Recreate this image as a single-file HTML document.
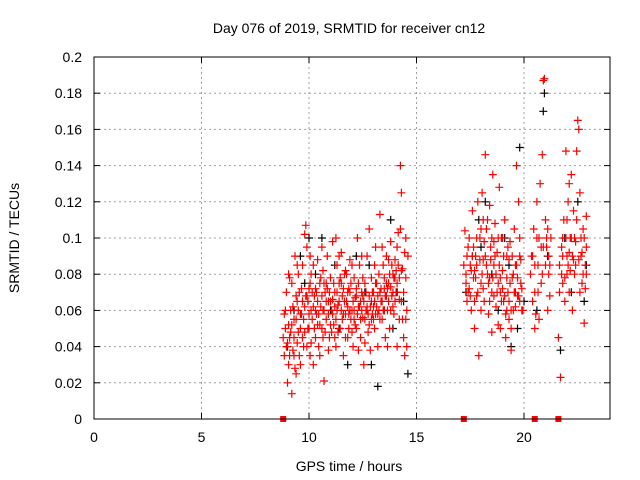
<!DOCTYPE html>
<html><head><meta charset="utf-8"><style>
body{margin:0;background:#fff;}
svg{display:block;font-family:"Liberation Sans",sans-serif;}
</style></head><body>
<svg id="chart" width="640" height="480" viewBox="0 0 640 480">
<text x="349" y="33" font-size="14" text-anchor="middle" fill="#000">Day 076 of 2019, SRMTID for receiver cn12</text>
<text x="349" y="471" font-size="14" text-anchor="middle">GPS time / hours</text>
<text transform="translate(19,238) rotate(-90)" font-size="14" text-anchor="middle">SRMTID / TECUs</text>
<g id="grid"></g><g id="ticks"></g><g id="marks"></g>
<rect x="94" y="57" width="516" height="362" fill="none" stroke="#000" stroke-width="1"/>
</svg>
<script>
const xTicks=[0,5,10,15,20];
const yTicks=[0,0.02,0.04,0.06,0.08,0.1,0.12,0.14,0.16,0.18,0.2];
const gapMarkers=[8.8,17.2,20.5,21.6];
const blackPoints=[[9.0,0.04],[9.3,0.06],[9.6,0.09],[10.0,0.1],[10.3,0.08],[10.6,0.1],[11.0,0.06],[11.4,0.05],[11.8,0.03],[12.2,0.09],[12.6,0.07],[12.9,0.03],[13.2,0.018],[13.5,0.06],[13.8,0.11],[14.1,0.07],[14.4,0.065],[14.6,0.025],[9.8,0.075],[11.2,0.085],[12.8,0.085],[13.9,0.05],
[17.3,0.07],[17.6,0.09],[17.9,0.11],[18.2,0.12],[18.5,0.08],[18.8,0.06],[19.1,0.1],[19.4,0.04],[19.7,0.05],[19.8,0.15],[20.0,0.065],[20.6,0.06],[20.9,0.17],[20.95,0.18],[21.1,0.09],[21.7,0.038],[21.9,0.1],[22.2,0.07],[22.5,0.12],[22.8,0.065],[22.9,0.085],[18.0,0.095],[19.3,0.085]];
const redPoints=[
[8.85,0.035],[8.9,0.05],[8.95,0.07],[9.0,0.02],[9.05,0.08],[9.1,0.045],[9.15,0.06],[9.2,0.014],[9.2,0.075],[9.25,0.038],[9.3,0.055],[9.35,0.09],[9.4,0.025],[9.45,0.065],[9.5,0.048],[9.55,0.07],[9.6,0.03],[9.65,0.058],[9.7,0.085],[9.75,0.04],[9.8,0.062],[9.85,0.107],[9.9,0.095],[9.95,0.05],[10.0,0.072],[10.05,0.035],[10.1,0.08],[10.15,0.055],[10.2,0.03],[10.25,0.068],[10.3,0.045],[10.35,0.058],[10.4,0.088],[10.45,0.04],[10.5,0.075],[10.55,0.062],[10.6,0.05],[10.65,0.082],[10.7,0.021],[10.75,0.07],[10.8,0.055],[10.85,0.09],[10.9,0.065],[10.95,0.045],[11.0,0.078],[11.05,0.06],[11.1,0.098],[11.15,0.052],[11.2,0.07],[11.25,0.04],[11.3,0.085],[11.35,0.063],[11.4,0.075],[11.45,0.05],[11.5,0.092],[11.55,0.068],[11.6,0.035],[11.65,0.08],[11.7,0.058],[11.75,0.065],[11.8,0.045],[11.85,0.072],[11.9,0.088],[11.95,0.055],[12.0,0.06],[12.05,0.04],[12.1,0.078],[12.15,0.067],[12.2,0.05],[12.25,0.1],[12.3,0.062],[12.35,0.085],[12.4,0.045],[12.45,0.07],[12.5,0.056],[12.55,0.03],[12.6,0.075],[12.65,0.06],[12.7,0.09],[12.75,0.048],[12.8,0.068],[12.85,0.038],[12.9,0.078],[12.95,0.058],[13.0,0.07],[13.05,0.05],[13.1,0.095],[13.15,0.062],[13.2,0.04],[13.25,0.08],[13.3,0.113],[13.35,0.065],[13.4,0.055],[13.45,0.085],[13.5,0.072],[13.55,0.045],[13.6,0.09],[13.65,0.06],[13.7,0.075],[13.75,0.05],[13.8,0.098],[13.85,0.068],[13.9,0.08],[13.95,0.058],[14.0,0.088],[14.05,0.07],[14.1,0.04],[14.15,0.103],[14.2,0.066],[14.25,0.14],[14.3,0.125],[14.35,0.083],[14.4,0.045],[14.45,0.035],[14.5,0.1],[14.55,0.06],[14.6,0.09],
[8.9,0.06],[9.0,0.042],[9.1,0.078],[9.2,0.052],[9.3,0.035],[9.4,0.068],[9.5,0.08],[9.6,0.058],[9.7,0.045],[9.8,0.102],[9.9,0.068],[10.0,0.05],[10.1,0.06],[10.2,0.085],[10.3,0.072],[10.4,0.052],[10.5,0.035],[10.6,0.095],[10.7,0.06],[10.8,0.075],[10.9,0.038],[11.0,0.052],[11.1,0.066],[11.2,0.045],[11.3,0.06],[11.4,0.09],[11.5,0.075],[11.6,0.058],[11.7,0.082],[11.8,0.07],[11.9,0.06],[12.0,0.085],[12.1,0.055],[12.2,0.072],[12.3,0.038],[12.4,0.065],[12.5,0.078],[12.6,0.042],[12.7,0.06],[12.8,0.105],[12.9,0.065],[13.0,0.055],[13.1,0.075],[13.2,0.058],[13.3,0.07],[13.4,0.095],[13.5,0.06],[13.6,0.068],[13.7,0.088],[13.8,0.073],[13.9,0.062],[14.0,0.078],[14.1,0.095],[14.2,0.055],[14.3,0.082],[14.4,0.07],[14.5,0.078],[9.05,0.03],[9.45,0.085],[10.05,0.09],[10.65,0.045],[11.25,0.1],[11.85,0.05],[12.45,0.09],[13.05,0.085],[13.65,0.04],[14.25,0.105],
[8.8,0.045],[8.85,0.058],[8.95,0.04],[9.05,0.052],[9.1,0.035],[9.15,0.048],[9.25,0.062],[9.3,0.045],[9.35,0.028],[9.4,0.055],[9.45,0.042],[9.5,0.06],[9.55,0.035],[9.6,0.05],[9.65,0.072],[9.7,0.065],[9.75,0.055],[9.8,0.048],[9.85,0.068],[9.9,0.04],[9.95,0.065],[10.0,0.058],[10.05,0.075],[10.1,0.042],[10.15,0.07],[10.2,0.062],[10.25,0.05],[10.3,0.06],[10.35,0.07],[10.4,0.065],[10.45,0.058],[10.5,0.052],[10.55,0.078],[10.6,0.068],[10.65,0.06],[10.7,0.075],[10.75,0.048],[10.8,0.065],[10.85,0.072],[10.9,0.058],[10.95,0.07],[11.0,0.065],[11.05,0.048],[11.1,0.058],[11.15,0.075],[11.2,0.062],[11.25,0.055],[11.3,0.07],[11.35,0.048],[11.4,0.065],[11.45,0.078],[11.5,0.06],[11.55,0.055],[11.6,0.072],[11.65,0.065],[11.7,0.045],[11.75,0.08],[11.8,0.062],[11.85,0.058],[11.9,0.07],[11.95,0.075],[12.0,0.048],[12.05,0.065],[12.1,0.06],[12.15,0.052],[12.2,0.068],[12.25,0.058],[12.3,0.075],[12.35,0.062],[12.4,0.055],[12.45,0.06],[12.5,0.068],[12.55,0.065],[12.6,0.055],[12.65,0.07],[12.7,0.062],[12.75,0.058],[12.8,0.052],[12.85,0.062],[12.9,0.055],[12.95,0.07],[13.0,0.062],[13.05,0.065],[13.1,0.058],[13.15,0.075],[13.2,0.068],[13.25,0.06],[13.3,0.055],[13.35,0.072],[13.4,0.065],[13.45,0.06],[13.5,0.078],[13.55,0.068],[13.6,0.075],[13.65,0.072],[13.7,0.065],[13.75,0.08],[13.8,0.06],[13.85,0.085],[13.9,0.07],[13.95,0.078],[14.0,0.065],[14.05,0.082],[14.1,0.075],[14.15,0.085],[14.2,0.078],[14.3,0.065],[14.35,0.055],[14.45,0.092],[14.5,0.055],[14.55,0.04],
[17.25,0.104],[17.3,0.08],[17.35,0.065],[17.4,0.095],[17.45,0.072],[17.5,0.085],[17.55,0.06],[17.6,0.115],[17.65,0.078],[17.7,0.05],[17.75,0.09],[17.8,0.068],[17.85,0.12],[17.9,0.035],[17.95,0.1],[18.0,0.075],[18.05,0.125],[18.1,0.088],[18.15,0.065],[18.2,0.146],[18.25,0.105],[18.3,0.08],[18.35,0.058],[18.4,0.118],[18.45,0.095],[18.5,0.07],[18.55,0.135],[18.6,0.085],[18.65,0.108],[18.7,0.062],[18.75,0.092],[18.8,0.075],[18.85,0.128],[18.9,0.05],[18.95,0.1],[19.0,0.082],[19.05,0.065],[19.1,0.11],[19.15,0.045],[19.2,0.09],[19.25,0.07],[19.3,0.055],[19.35,0.098],[19.4,0.038],[19.45,0.078],[19.5,0.06],[19.55,0.105],[19.6,0.085],[19.65,0.14],[19.7,0.068],[19.75,0.12],[19.8,0.09],[19.85,0.075],[19.9,0.06],
[17.4,0.07],[17.6,0.09],[17.8,0.1],[18.0,0.06],[18.2,0.09],[18.4,0.078],[18.6,0.098],[18.8,0.052],[19.0,0.1],[19.2,0.06],[19.4,0.05],[19.6,0.07],[19.8,0.1],[17.7,0.082],[18.1,0.11],[18.5,0.048],[18.9,0.07],[19.3,0.088],
[17.2,0.085],[17.3,0.075],[17.35,0.09],[17.45,0.1],[17.5,0.068],[17.55,0.082],[17.65,0.095],[17.7,0.065],[17.75,0.078],[17.8,0.085],[17.85,0.07],[17.95,0.088],[18.0,0.105],[18.05,0.08],[18.1,0.072],[18.15,0.098],[18.25,0.085],[18.3,0.11],[18.35,0.075],[18.4,0.065],[18.45,0.088],[18.5,0.1],[18.55,0.078],[18.6,0.068],[18.65,0.09],[18.7,0.08],[18.75,0.07],[18.8,0.1],[18.85,0.085],[18.9,0.078],[18.95,0.065],[19.0,0.072],[19.05,0.09],[19.1,0.068],[19.15,0.058],[19.2,0.078],[19.25,0.095],[19.3,0.065],[19.35,0.075],[19.4,0.06],[19.45,0.09],[19.5,0.08],[19.55,0.07],[19.6,0.062],[19.65,0.085],[19.7,0.078],[19.75,0.068],[19.8,0.065],[19.85,0.088],[19.9,0.072],[19.95,0.06],
[20.3,0.08],[20.35,0.09],[20.4,0.065],[20.45,0.105],[20.5,0.07],[20.55,0.058],[20.6,0.12],[20.65,0.085],[20.7,0.1],[20.75,0.13],[20.8,0.075],[20.85,0.146],[20.9,0.187],[20.95,0.188],[21.0,0.11],[21.05,0.095],[21.1,0.06],[21.15,0.08],[21.2,0.068],[20.5,0.05],[20.7,0.055],[20.9,0.095],[21.1,0.105],
[20.4,0.09],[20.5,0.085],[20.6,0.1],[20.65,0.07],[20.8,0.095],[20.85,0.08],[21.0,0.085],[21.05,0.1],[21.15,0.09],[21.2,0.085],[21.25,0.1],
[21.6,0.045],[21.65,0.085],[21.7,0.023],[21.75,0.095],[21.8,0.075],[21.85,0.11],[21.9,0.065],[21.95,0.148],[22.0,0.09],[22.05,0.12],[22.1,0.07],[22.15,0.1],[22.2,0.135],[22.25,0.06],[22.3,0.115],[22.35,0.08],[22.4,0.098],[22.45,0.148],[22.5,0.165],[22.55,0.16],[22.6,0.125],[22.65,0.09],[22.7,0.075],[22.75,0.105],[22.8,0.053],[22.85,0.085],[22.9,0.112],[22.0,0.08],[22.3,0.088],[22.6,0.07],[22.9,0.095],[21.8,0.1],[22.1,0.13],
[21.65,0.07],[21.75,0.08],[21.8,0.09],[21.9,0.078],[21.95,0.1],[22.0,0.11],[22.05,0.085],[22.1,0.092],[22.15,0.082],[22.2,0.1],[22.25,0.09],[22.35,0.1],[22.4,0.085],[22.45,0.11],[22.55,0.088],[22.65,0.1],[22.7,0.092],[22.75,0.08],[22.8,0.1],[22.85,0.072],[22.9,0.08]
];
const NS="http://www.w3.org/2000/svg";
const X=h=>94+h*516/24, Y=v=>419-v*362/0.2;
function mk(tag,attrs,parent){const e=document.createElementNS(NS,tag);for(const k in attrs)e.setAttribute(k,attrs[k]);parent.appendChild(e);return e;}
const grid=document.getElementById('grid'),ticks=document.getElementById('ticks'),marks=document.getElementById('marks');
xTicks.forEach(t=>{const x=X(t);
 if(t>0){const g=mk('line',{x1:x,x2:x,y1:57,y2:419,stroke:'#a0a0a0','stroke-dasharray':'2,3'},grid);
 
 }
 mk('line',{x1:x,x2:x,y1:419,y2:413,stroke:'#000'},ticks);mk('line',{x1:x,x2:x,y1:57,y2:63,stroke:'#000'},ticks);
 const l=mk('text',{x:x,y:442,'font-size':14,'text-anchor':'middle'},ticks);l.textContent=t;
 
 });
yTicks.forEach(t=>{const y=Y(t);
 if(t>0&&t<0.2){const g=mk('line',{x1:94,x2:610,y1:y,y2:y,stroke:'#a0a0a0','stroke-dasharray':'2,3'},grid);
 
 }
 mk('line',{x1:94,x2:100,y1:y,y2:y,stroke:'#000'},ticks);mk('line',{x1:610,x2:604,y1:y,y2:y,stroke:'#000'},ticks);
 const l=mk('text',{x:82,y:y+5,'font-size':14,'text-anchor':'end'},ticks);l.textContent=t;
 
 });
function series(pts,c,name){
 let d='';
 pts.forEach(p=>{const x=X(p[0]),y=Y(p[1]);d+=`M${(x-4).toFixed(1)} ${y.toFixed(1)}h8M${x.toFixed(1)} ${(y-4).toFixed(1)}v8`;});
 const e=mk('path',{d:d,stroke:c,'stroke-width':1.2,fill:'none'},marks);
 
 }
series(blackPoints,'#000','black-points');
series(redPoints,'#ff0000','red-points');
gapMarkers.forEach(h=>{const r=mk('rect',{x:X(h)-3,y:416,width:6,height:6,fill:'#ff0000'},marks);
 
 });
</script>
</body></html>
